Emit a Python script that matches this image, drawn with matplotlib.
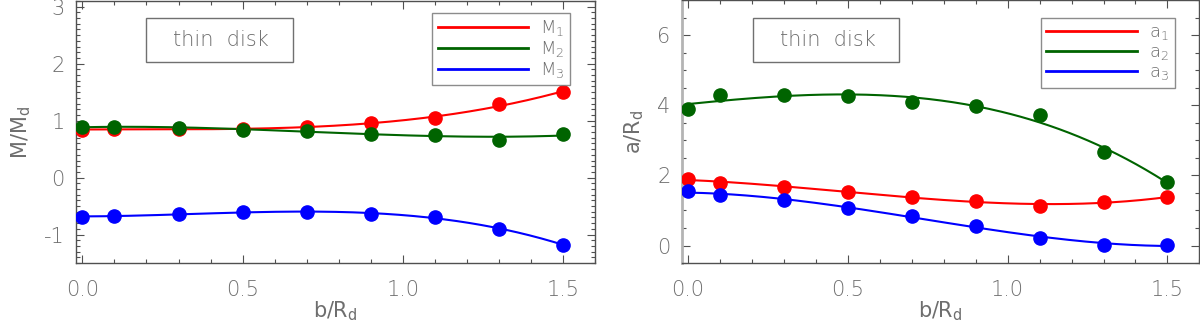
import numpy as np
import matplotlib.pyplot as plt
from matplotlib.patches import Rectangle
from matplotlib.ticker import MultipleLocator

# impact parameter b/R_d
b = [0.0, 0.1, 0.3, 0.5, 0.7, 0.9, 1.1, 1.3, 1.5]

# left panel: masses M/M_d
M1 = [0.84, 0.85, 0.85, 0.86, 0.89, 0.95, 1.04, 1.30, 1.50]
M2 = [0.89, 0.89, 0.875, 0.835, 0.82, 0.77, 0.755, 0.665, 0.76]
M3 = [-0.69, -0.665, -0.64, -0.61, -0.61, -0.63, -0.69, -0.90, -1.18]

# right panel: scale lengths a/R_d
a1 = [1.90, 1.79, 1.66, 1.54, 1.39, 1.28, 1.12, 1.23, 1.39]
a2 = [3.90, 4.30, 4.29, 4.27, 4.10, 3.97, 3.71, 2.67, 1.80]
a3 = [1.55, 1.44, 1.29, 1.08, 0.85, 0.57, 0.22, 0.02, 0.02]

colors = ['#ff0000', '#006400', '#0000ff']
gray = '#6e6e6e'

plt.rcParams['font.family'] = 'DejaVu Sans'
plt.rcParams['font.weight'] = 'light'
plt.rcParams['mathtext.fontset'] = 'dejavusans'
plt.rcParams['mathtext.default'] = 'regular'

fig = plt.figure(figsize=(12, 3.26), dpi=100)
axL = fig.add_axes([0.0633, 0.193, 0.4327, 0.804])
axR = fig.add_axes([0.568, 0.193, 0.4315, 0.807])


def panel(ax, series, labels, ylabel, ylim, ymaj, ymin, leg_box, box):
    bb = np.array(b)
    xs = np.linspace(0, 1.5, 200)
    for y, c, lab in zip(series, colors, labels):
        coef = np.polyfit(bb, y, 3)
        ax.plot(xs, np.polyval(coef, xs), color=c, lw=1.5, label=lab, zorder=2)
        ax.plot(bb, y, 'o', color=c, ms=9.5, zorder=3)

    ax.set_xlim(-0.02, 1.6)
    ax.set_ylim(*ylim)
    ax.xaxis.set_major_locator(MultipleLocator(0.5))
    ax.xaxis.set_minor_locator(MultipleLocator(0.1))
    ax.yaxis.set_major_locator(MultipleLocator(ymaj))
    ax.yaxis.set_minor_locator(MultipleLocator(ymin))
    ax.xaxis.set_major_formatter(plt.FormatStrFormatter('%.1f'))
    ax.yaxis.set_major_formatter(plt.FormatStrFormatter('%d'))
    ax.tick_params(which='both', direction='in', top=True, right=True,
                   colors='#505050', labelcolor=gray, labelsize=15)
    ax.tick_params(which='major', length=6, width=0.8)
    ax.tick_params(which='minor', length=3, width=0.8)
    ax.tick_params(axis='x', pad=12)
    ax.tick_params(axis='y', pad=8)
    for s in ax.spines.values():
        s.set_color('#505050')
        s.set_linewidth(1.0)

    ax.set_xlabel('b/R$_d$', color=gray, fontsize=15, labelpad=0)
    ax.set_ylabel(ylabel, color=gray, fontsize=15, labelpad=8)

    leg = ax.legend(loc='upper left', bbox_to_anchor=leg_box,
                    frameon=True, fancybox=False, fontsize=13,
                    handlelength=5.0, handletextpad=0.7, labelspacing=0.05,
                    borderpad=0.3, borderaxespad=0)
    leg.get_frame().set_edgecolor('#707070')
    leg.get_frame().set_linewidth(1.0)
    for t in leg.get_texts():
        t.set_color(gray)
    for h in leg.get_lines():
        h.set_linewidth(2.0)

    x0, y0, x1, y1, tx = box
    ax.add_patch(Rectangle((x0, y0), x1 - x0, y1 - y0, transform=ax.transAxes,
                           fill=False, edgecolor='#707070', lw=1.0, zorder=4))
    ax.text(tx, (y0 + y1) / 2, 'thin  disk', transform=ax.transAxes,
            color=gray, fontsize=15, va='center', ha='left')


panel(axL, [M1, M2, M3], ['M$_1$', 'M$_2$', 'M$_3$'], 'M/M$_d$',
      (-1.5, 3.1), 1, 0.1, (0.686, 0.955),
      (0.135, 0.767, 0.418, 0.935, 0.187))
panel(axR, [a1, a2, a3], ['a$_1$', 'a$_2$', 'a$_3$'], 'a/R$_d$',
      (-0.5, 7.0), 2, 0.5, (0.694, 0.932),
      (0.137, 0.764, 0.419, 0.932, 0.191))
axR.spines['left'].set_color('#b4b4b4')
axR.spines['left'].set_linewidth(2.0)

fig.savefig('out.png', dpi=100)
